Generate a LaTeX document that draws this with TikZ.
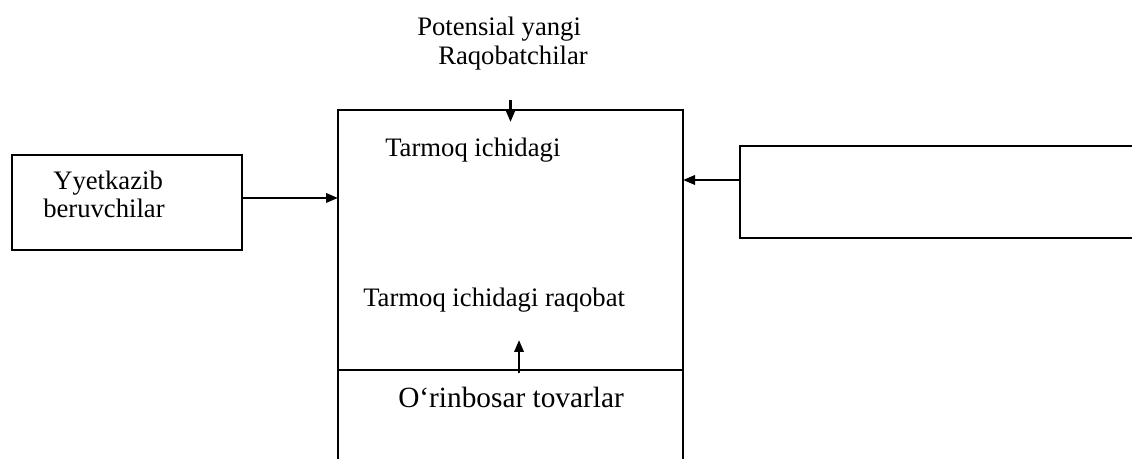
\documentclass[tikz,border=0pt]{standalone}
\usepackage{fontspec}
\setmainfont{Liberation Serif}
\usetikzlibrary{arrows.meta}
\usetikzlibrary{positioning}

\tikzset{
  blok/.style={draw, line width=1.8pt, inner sep=0pt, outer sep=0pt},
  yozuv/.style={font=\fontsize{20}{24}\selectfont, inner sep=0pt, anchor=base west},
  strelka/.style={-{Triangle[length=9pt,width=7pt]}, line width=1.8pt}
}

\begin{document}
\begin{tikzpicture}[x=0.75pt,y=-0.75pt, node distance=0pt]
\useasboundingbox (0,0) rectangle (1132,459);
\clip (0,0) rectangle (1132,459);
% bloklar
\node[blok, minimum width=172.5pt, minimum height=71.25pt] (yetkazib) at (127,202.5) {};
\node[blok, minimum width=258.75pt, minimum height=195pt] (raqobat) at (510.5,240) {};
\node[blok, minimum width=258.75pt, minimum height=142.5pt, below=of raqobat] (orinbosar) {};
\node[blok, minimum width=345pt, minimum height=69pt] (xaridor) at (970,192) {};
% yozuvlar
\node[yozuv] (potensial) at (417,36) {Potensial yangi};
\node[yozuv] (raqobatchi) at (438,65) {Raqobatchilar};
\node[yozuv] (ichki) at (385,157) {Tarmoq ichidagi};
\node[yozuv] (ichkiraqobat) at (363,307) {Tarmoq ichidagi raqobat};
\node[yozuv, font=\fontsize{22}{26}\selectfont] (tovar) at (398,408) {O‘rinbosar tovarlar};
\node[yozuv] (yyet) at (53,190) {Yyetkazib};
\node[yozuv] (beruv) at (43,218) {beruvchilar};
% strelkalar
\draw[strelka] ([yshift=3.4pt]yetkazib.east) -- ([yshift=3.4pt]yetkazib.east -| raqobat.west);
\draw[strelka] ([yshift=9pt]xaridor.west) -- ([yshift=9pt]xaridor.west -| raqobat.east);
\draw[strelka] ([yshift=7.5pt]raqobat.north) -- ([yshift=-9pt]raqobat.north);
\draw[strelka] ([xshift=6.4pt,yshift=-2pt]orinbosar.north) -- ([xshift=6.4pt,yshift=22.5pt]orinbosar.north);
\end{tikzpicture}
\end{document}
